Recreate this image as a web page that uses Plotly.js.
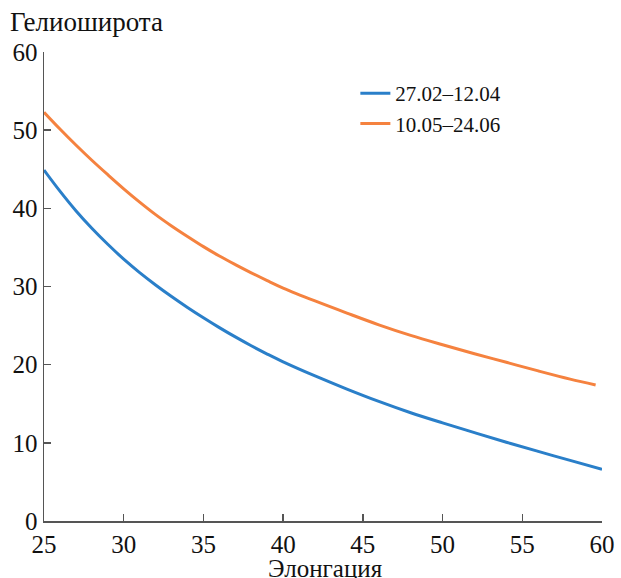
<!DOCTYPE html>
<html>
<head>
<meta charset="utf-8">
<script src="https://cdn.plot.ly/plotly-3.0.1.min.js"></script>
<style>html,body{margin:0;padding:0;background:#fff;}#chart{width:621px;height:578px;}</style>
</head>
<body>
<div id="chart"></div>
<script>
var blueX = [25, 26, 27, 28, 29, 30, 31, 32, 33, 34, 35, 36, 37, 38, 39, 40, 42, 44, 46, 48, 50, 52, 54, 56, 58, 60];
var blueY = [44.9, 42.2, 39.7, 37.45, 35.4, 33.5, 31.78, 30.2, 28.72, 27.32, 26.0, 24.74, 23.55, 22.42, 21.36, 20.36, 18.56, 16.88, 15.3, 13.85, 12.55, 11.3, 10.08, 8.9, 7.75, 6.6];
var orangeX = [25, 26, 27, 28, 29, 30, 31, 32, 33, 34, 35, 36, 37, 38, 39, 40, 42, 44, 46, 48, 50, 52, 54, 56, 58, 59.6];
var orangeY = [52.3, 50.15, 48.1, 46.15, 44.3, 42.5, 40.8, 39.2, 37.75, 36.4, 35.1, 33.9, 32.8, 31.75, 30.75, 29.8, 28.15, 26.6, 25.1, 23.75, 22.55, 21.4, 20.3, 19.2, 18.15, 17.4];
var seriesNames = ['27.02\u201312.04', '10.05\u201324.06'];
var xTicks = [25, 30, 35, 40, 45, 50, 55, 60];
var yTicks = [0, 10, 20, 30, 40, 50, 60];
var xTitle = 'Элонгация';
var yTitle = 'Гелиоширота';

var FONT = 'Liberation Serif, Times New Roman, serif';
var traces = [
  {x: blueX, y: blueY, name: seriesNames[0], mode: 'lines', line: {color: '#2a7fc9', width: 3, shape: 'spline', smoothing: 1}},
  {x: orangeX, y: orangeY, name: seriesNames[1], mode: 'lines', line: {color: '#f5823f', width: 3, shape: 'spline', smoothing: 1}}
];
var axisCommon = {
  showgrid: false, zeroline: false, showline: true, linecolor: '#555', linewidth: 1.5,
  ticks: 'inside', ticklen: 7, tickwidth: 1.5, tickcolor: '#555',
  tickfont: {family: FONT, size: 25, color: '#111'}
};
var layout = {
  width: 621, height: 578,
  margin: {l: 44, r: 19, t: 52, b: 57},
  paper_bgcolor: '#fff', plot_bgcolor: '#fff',
  font: {family: FONT, color: '#111'},
  showlegend: true,
  legend: {x: 0.558, y: 0.955, xanchor: 'left', yanchor: 'top', bgcolor: 'rgba(0,0,0,0)',
           font: {family: FONT, size: 21, color: '#111'}},
  xaxis: Object.assign({}, axisCommon, {range: [25, 60], tickvals: xTicks, ticktext: xTicks.map(String)}),
  yaxis: Object.assign({}, axisCommon, {range: [0, 60], tickvals: yTicks, ticktext: yTicks.map(String)}),
  annotations: [
    {text: yTitle, xref: 'paper', yref: 'paper', x: 0, y: 1, xanchor: 'left', yanchor: 'middle',
     xshift: -36, yshift: 30, showarrow: false, font: {family: FONT, size: 27, color: '#111'}},
    {text: xTitle, xref: 'paper', yref: 'paper', x: 0.504, y: 0, xanchor: 'center', yanchor: 'middle',
     yshift: -47, showarrow: false, font: {family: FONT, size: 25, color: '#111'}}
  ]
};
Plotly.newPlot('chart', traces, layout, {displayModeBar: false, staticPlot: true});
</script>
</body>
</html>
